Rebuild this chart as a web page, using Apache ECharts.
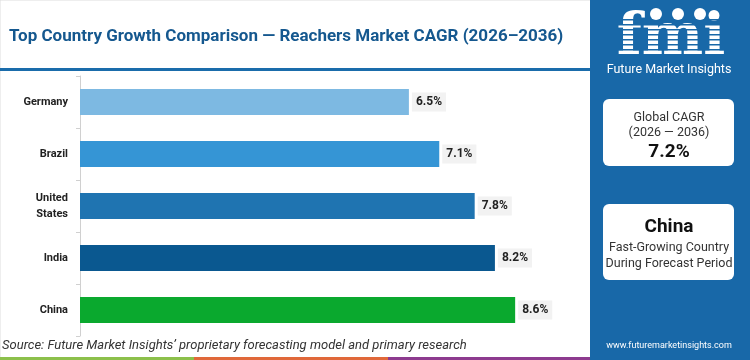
<!DOCTYPE html>
<html><head><meta charset="utf-8">
<script src="https://cdn.jsdelivr.net/npm/echarts@6/dist/echarts.min.js"></script>
<style>html,body{margin:0;padding:0;background:#fff}#c{width:750px;height:360px}</style>
</head><body><div id="c"></div>
<script>
const categories = ['Germany', 'Brazil', 'United\nStates', 'India', 'China'];
const cagrValues = [6.5, 7.1, 7.8, 8.2, 8.6];
const barColors = ['#7db9e2', '#3595d5', '#1f74b1', '#0a5890', '#0aa92e'];
const titleText = 'Top Country Growth Comparison \u2014 Reachers Market CAGR (2026\u20132036)';
const sourceText = 'Source: Future Market Insights\u2019 proprietary forecasting model and primary research';
const globalCagr = '7.2%';
const leaderCountry = 'China';

const chart = echarts.init(document.getElementById('c'), null, {renderer: 'canvas'});
const FONT = 'Roboto, "Liberation Sans", sans-serif';
const panelBlue = '#1868a8';

const logoStripes = [];
for (let i = 0; i < 9; i++) {
  logoStripes.push({type: 'rect', shape: {x: 612, y: 19 + i * 5, width: 118, height: 1.6}, style: {fill: panelBlue}, z: 12});
}

chart.setOption({
  animation: false,
  grid: {left: 80, right: 164, top: 76, bottom: 24, containLabel: false},
  xAxis: {type: 'value', min: 0, max: 10, show: false},
  yAxis: {
    type: 'category', data: categories, inverse: true,
    axisLine: {show: true, lineStyle: {color: '#d0d0d0', width: 1}},
    axisTick: {show: true, length: 4, lineStyle: {color: '#d0d0d0'}},
    axisLabel: {color: '#222', fontWeight: 'bold', fontSize: 11, fontFamily: FONT, margin: 12, lineHeight: 16}
  },
  series: [{
    type: 'bar', barWidth: '50%',
    data: cagrValues.map((v, i) => ({value: v, itemStyle: {color: barColors[i]}})),
    label: {
      show: true, position: 'right', distance: 3,
      formatter: p => p.value + '%',
      color: '#222', fontWeight: 'bold', fontSize: 12, fontFamily: FONT,
      backgroundColor: '#f2f2f2', padding: [4, 4, 3, 4]
    }
  }],
  graphic: [
    {type: 'rect', shape: {x: 0, y: 0, width: 750, height: 360}, style: {fill: 'none', stroke: '#dddddd', lineWidth: 1}, z: 1},
    {type: 'text', left: 9, top: 28, style: {text: titleText, fill: '#15588f', font: 'bold 17px ' + FONT}, z: 5},
    {type: 'rect', shape: {x: 0, y: 68, width: 590, height: 3}, style: {fill: '#1a6cab'}, z: 5},
    {type: 'rect', shape: {x: 590, y: 0, width: 160, height: 360}, style: {fill: panelBlue}, z: 10},
    {type: 'text', x: 671, y: 39, style: {text: 'fmi', fill: '#ffffff', font: 'bold 58px "DejaVu Serif", serif', align: 'center', verticalAlign: 'middle'}, z: 11},
    ...logoStripes,
    {type: 'circle', shape: {cx: 656, cy: 14, r: 6}, style: {fill: '#ffffff'}, z: 13},
    {type: 'circle', shape: {cx: 678, cy: 14, r: 6}, style: {fill: '#ffffff'}, z: 13},
    {type: 'circle', shape: {cx: 700, cy: 14, r: 6}, style: {fill: '#ffffff'}, z: 13},
    {type: 'text', x: 669, y: 70, style: {text: 'Future Market Insights', fill: '#ffffff', font: '12.5px ' + FONT, align: 'center', verticalAlign: 'middle'}, z: 13},
    {type: 'rect', shape: {x: 603, y: 99, width: 131, height: 67, r: 6}, style: {fill: '#ffffff'}, z: 11},
    {type: 'text', x: 669, y: 118, style: {text: 'Global CAGR', fill: '#333', font: '12.5px ' + FONT, align: 'center', verticalAlign: 'middle'}, z: 12},
    {type: 'text', x: 669, y: 133, style: {text: '(2026 \u2014 2036)', fill: '#333', font: '12.5px ' + FONT, align: 'center', verticalAlign: 'middle'}, z: 12},
    {type: 'text', x: 669, y: 152, style: {text: globalCagr, fill: '#111', font: 'bold 19px ' + FONT, align: 'center', verticalAlign: 'middle'}, z: 12},
    {type: 'rect', shape: {x: 603, y: 204, width: 131, height: 76, r: 6}, style: {fill: '#ffffff'}, z: 11},
    {type: 'text', x: 669, y: 227, style: {text: leaderCountry, fill: '#111', font: 'bold 19px ' + FONT, align: 'center', verticalAlign: 'middle'}, z: 12},
    {type: 'text', x: 669, y: 248, style: {text: 'Fast-Growing Country', fill: '#333', font: '12.5px ' + FONT, align: 'center', verticalAlign: 'middle'}, z: 12},
    {type: 'text', x: 669, y: 264, style: {text: 'During Forecast Period', fill: '#333', font: '12.5px ' + FONT, align: 'center', verticalAlign: 'middle'}, z: 12},
    {type: 'text', x: 669, y: 346, style: {text: 'www.futuremarketinsights.com', fill: '#ffffff', font: '9px ' + FONT, align: 'center', verticalAlign: 'middle'}, z: 12},
    {type: 'text', left: 2, top: 339, style: {text: sourceText, fill: '#333', font: 'italic 13px ' + FONT}, z: 5},
    {type: 'rect', shape: {x: 0, y: 357, width: 194, height: 3}, style: {fill: '#8cc04b'}, z: 5},
    {type: 'rect', shape: {x: 194, y: 357, width: 194, height: 3}, style: {fill: '#e0683a'}, z: 5},
    {type: 'rect', shape: {x: 388, y: 357, width: 202, height: 3}, style: {fill: '#8d3b8f'}, z: 5}
  ]
});
</script></body></html>
